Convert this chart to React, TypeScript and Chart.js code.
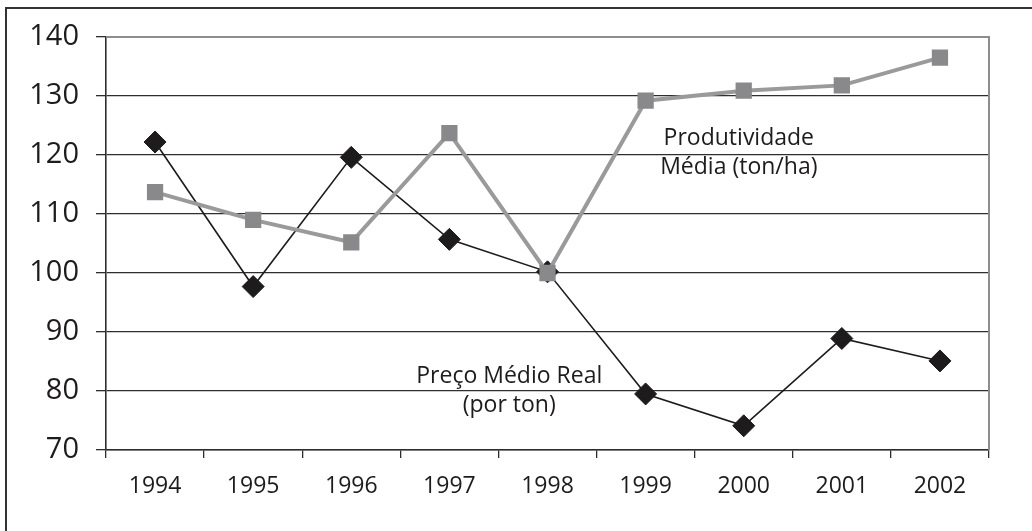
import React, { useEffect, useRef } from "react";
import { Chart, registerables } from "chart.js";

Chart.register(...registerables);

const years = ["1994", "1995", "1996", "1997", "1998", "1999", "2000", "2001", "2002"];
const produtividade = [113.7, 109.0, 105.2, 123.7, 100.0, 129.2, 130.9, 131.8, 136.5];
const preco = [122.2, 97.7, 119.6, 105.7, 100.2, 79.5, 74.1, 88.9, 85.1];

const yMin = 70;
const yMax = 140;
const yStep = 10;

// annotation texts, placed at (category index, value)
const noteLines = ["Produtividade", "Média (ton/ha)", "Preço Médio Real", "(por ton)"];
const noteIdx = [5.95, 5.95, 3.61, 3.61];
const noteVal = [122.8, 117.9, 82.5, 77.5];

const FONT = '"Open Sans", "DejaVu Sans", sans-serif';
const INK = "#1e1b1c";
const GRID = "#2e2e2e";
const FRAME = "#8d8d8d";

const notesPlugin = {
  id: "notes",
  afterDatasetsDraw(chart: any) {
    const { ctx, scales } = chart;
    const xs = scales.x;
    const ys = scales.y;
    ctx.save();
    ctx.font = `23px ${FONT}`;
    ctx.fillStyle = INK;
    ctx.textAlign = "center";
    ctx.textBaseline = "middle";
    noteLines.forEach((t, i) => {
      ctx.fillText(t, xs.getPixelForValue(noteIdx[i]), ys.getPixelForValue(noteVal[i]));
    });
    ctx.restore();
  },
};

const framePlugin = {
  id: "frame",
  beforeDatasetsDraw(chart: any) {
    const { ctx, chartArea } = chart;
    ctx.save();
    ctx.strokeStyle = FRAME;
    ctx.lineWidth = 2;
    ctx.beginPath();
    ctx.moveTo(chartArea.left, chartArea.top);
    ctx.lineTo(chartArea.right, chartArea.top);
    ctx.lineTo(chartArea.right, chartArea.bottom);
    ctx.stroke();
    ctx.restore();
  },
};

export default function App() {
  const ref = useRef<HTMLCanvasElement | null>(null);

  useEffect(() => {
    if (!ref.current) return;
    const chart = new Chart(ref.current, {
      type: "line",
      data: {
        labels: years,
        datasets: [
          {
            label: "Produtividade Média (ton/ha)",
            data: produtividade,
            borderColor: "#9a9a9a",
            borderWidth: 4,
            pointStyle: "rect",
            pointRadius: 11.5,
            pointBackgroundColor: "#89898b",
            pointBorderColor: "#89898b",
            pointBorderWidth: 0,
            tension: 0,
          },
          {
            label: "Preço Médio Real (por ton)",
            data: preco,
            borderColor: INK,
            borderWidth: 1.6,
            pointStyle: "rectRot",
            pointRadius: 11,
            pointBackgroundColor: INK,
            pointBorderColor: INK,
            pointBorderWidth: 1,
            tension: 0,
          },
        ],
      },
      options: {
        responsive: false,
        animation: false,
        devicePixelRatio: 1,
        layout: { padding: { left: 0, right: 43, top: 37, bottom: 0 } },
        plugins: {
          legend: { display: false },
          tooltip: { enabled: false },
        },
        scales: {
          x: {
            type: "category",
            offset: true,
            afterFit(scale: any) {
              scale.height = 81;
            },
            grid: {
              offset: true,
              drawOnChartArea: false,
              drawTicks: true,
              tickLength: 8,
              color: GRID,
              tickColor: GRID,
              lineWidth: 1.3,
            },
            border: { display: true, color: GRID, width: 1.6 },
            ticks: {
              color: INK,
              font: { family: FONT, size: 23 },
              padding: 15,
              maxRotation: 0,
              autoSkip: false,
            },
          },
          y: {
            min: yMin,
            max: yMax,
            afterFit(scale: any) {
              scale.width = 106;
            },
            grid: {
              color: (c: any) => (c.tick && c.tick.value === yMax ? "rgba(0,0,0,0)" : GRID),
              tickColor: GRID,
              lineWidth: 1.3,
              tickLength: 10,
            },
            border: { display: true, color: GRID, width: 1.6 },
            ticks: {
              stepSize: yStep,
              color: INK,
              font: { family: FONT, size: 29 },
              padding: 17,
            },
          },
        },
      },
      plugins: [framePlugin, notesPlugin],
    });
    return () => chart.destroy();
  }, []);

  return (
    <div
      style={{
        position: "fixed",
        left: 0,
        top: 0,
        width: 1032,
        height: 531,
        overflow: "hidden",
        background: "#ffffff",
      }}
    >
      <canvas ref={ref} width={1032} height={531} style={{ position: "absolute", left: 0, top: 0 }} />
      <div
        style={{
          position: "absolute",
          left: 5,
          top: 7,
          width: 1100,
          height: 600,
          borderLeft: "2px solid #333333",
          borderTop: "2px solid #333333",
          pointerEvents: "none",
        }}
      />
    </div>
  );
}
